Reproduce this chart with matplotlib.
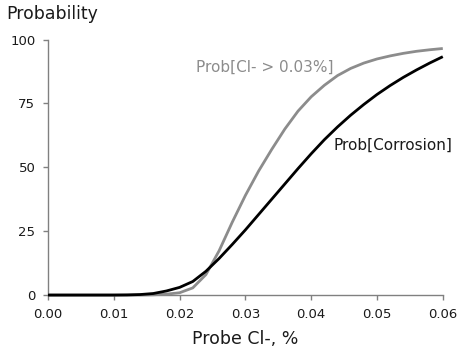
import matplotlib
matplotlib.use("Agg")
import matplotlib.pyplot as plt

plt.rcParams['font.family'] = ['DejaVu Sans']

x_vals = [0.000, 0.002, 0.004, 0.006, 0.008, 0.010, 0.012, 0.014, 0.016, 0.018,
          0.020, 0.022, 0.024, 0.026, 0.028, 0.030, 0.032, 0.034, 0.036, 0.038,
          0.040, 0.042, 0.044, 0.046, 0.048, 0.050, 0.052, 0.054, 0.056, 0.058, 0.060]

prob_corrosion = [0, 0, 0, 0, 0, 0, 0.05, 0.2, 0.6, 1.6,
                  3.0, 5.3, 9.3, 14.3, 19.8, 25.5, 31.5, 37.5, 43.5, 49.5,
                  55.3, 60.8, 65.8, 70.4, 74.6, 78.5, 82.0, 85.2, 88.1, 90.8, 93.3]

prob_cl = [0, 0, 0, 0, 0, 0, 0, 0.02, 0.1, 0.35,
           0.9, 2.8, 8.0, 17.3, 28.5, 39, 48.5, 57, 65, 72.0,
           77.6, 82.1, 85.9, 88.7, 90.8, 92.4, 93.6, 94.6, 95.4, 96.0, 96.5]

x_ticks = [0.00, 0.01, 0.02, 0.03, 0.04, 0.05, 0.06]
x_tick_labels = ["0.00", "0.01", "0.02", "0.03", "0.04", "0.05", "0.06"]
y_ticks = [0, 25, 50, 75, 100]
y_tick_labels = ["0", "25", "50", "75", "100"]

gray = '#8c8c8c'
axis_gray = '#808080'
text_color = '#1a1a1a'

fig = plt.figure(figsize=(4.58, 3.5), dpi=100)
ax = fig.add_axes([0.1048, 0.157, 0.862, 0.730])

ax.plot(x_vals, prob_cl, color=gray, lw=2.0, solid_capstyle='butt', clip_on=False, zorder=3)
ax.plot(x_vals, prob_corrosion, color='black', lw=2.0, solid_capstyle='butt', clip_on=False, zorder=4)

ax.set_xlim(0, 0.06)
ax.set_ylim(0, 100)
ax.set_xticks(x_ticks)
ax.set_xticklabels(x_tick_labels)
ax.set_yticks(y_ticks)
ax.set_yticklabels(y_tick_labels)

for s in ['top', 'right']:
    ax.spines[s].set_visible(False)
for s in ['left', 'bottom']:
    ax.spines[s].set_color(axis_gray)
    ax.spines[s].set_linewidth(1.0)

ax.tick_params(axis='both', direction='out', length=3.6, width=1.0, color=axis_gray,
               labelsize=9.5, labelcolor=text_color)
ax.tick_params(axis='y', pad=5.5)
ax.tick_params(axis='x', pad=6)

ax.set_xlabel("Probe Cl-, %", fontsize=12.5, color=text_color, labelpad=6)
fig.text(6/458, 1 - 14/350, "Probability", fontsize=12.4, color=text_color, ha='left', va='center')

ax.text(0.0225, 89.2, "Prob[Cl- > 0.03%]", fontsize=11, color=gray, ha='left', va='center')
ax.text(0.04345, 58.7, "Prob[Corrosion]", fontsize=11, color=text_color, ha='left', va='center', clip_on=False)

fig.savefig("out.png", dpi=100)
